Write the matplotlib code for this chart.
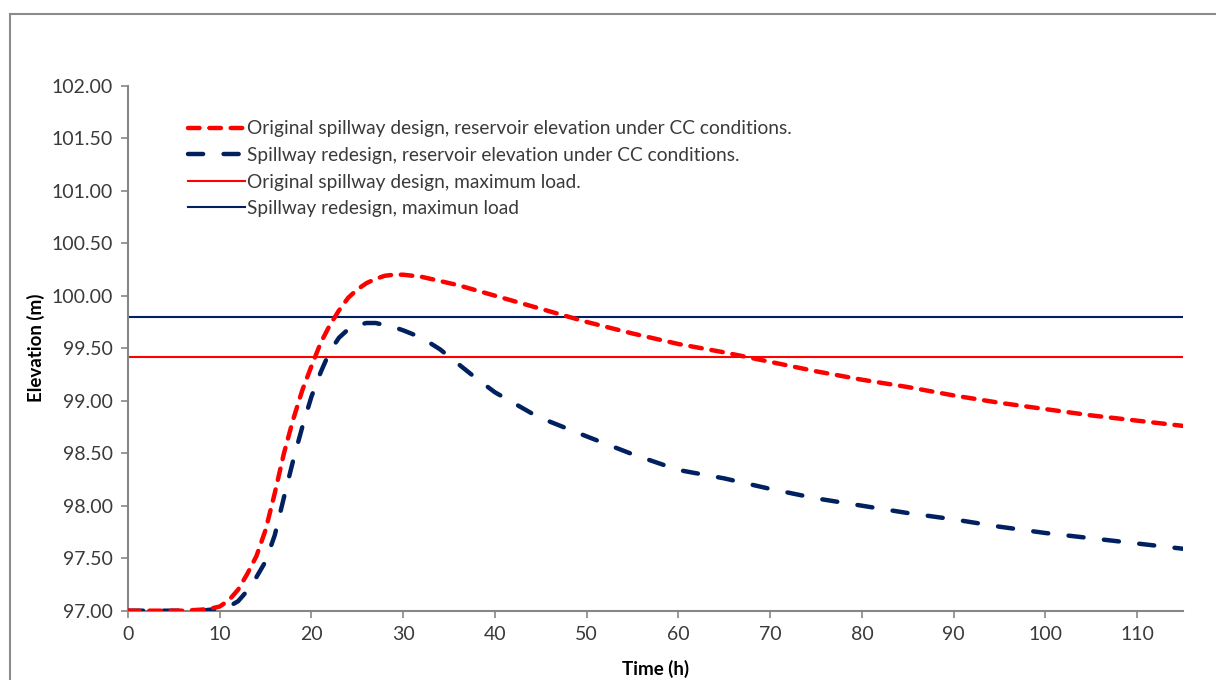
import matplotlib
matplotlib.use("Agg")
import matplotlib.pyplot as plt
from matplotlib.lines import Line2D

plt.rcParams['font.family'] = ['Lato', 'DejaVu Sans']

time_h = [0, 2, 4, 6, 8, 9, 10, 11, 12, 13, 14, 15, 16, 17, 18, 19, 20, 21, 22, 23,
          24, 25, 26, 27, 28, 29, 30, 32, 34, 36, 38, 40, 42, 44, 46, 48, 50, 55, 60,
          65, 70, 75, 80, 85, 90, 95, 100, 105, 110, 115]

original_elev = [97.00, 97.00, 97.00, 97.00, 97.01, 97.02, 97.04, 97.10, 97.20, 97.35,
                 97.52, 97.77, 98.12, 98.50, 98.82, 99.10, 99.33, 99.55, 99.72, 99.86,
                 99.98, 100.06, 100.12, 100.16, 100.19, 100.20, 100.20, 100.18, 100.14,
                 100.10, 100.05, 100.00, 99.95, 99.90, 99.85, 99.80, 99.75, 99.64, 99.54,
                 99.46, 99.37, 99.28, 99.20, 99.13, 99.05, 98.98, 98.92, 98.86, 98.81, 98.76]

redesign_elev = [97.00, 97.00, 97.00, 97.00, 97.00, 97.01, 97.02, 97.04, 97.09, 97.19,
                 97.32, 97.47, 97.72, 98.08, 98.43, 98.75, 99.04, 99.27, 99.47, 99.60,
                 99.68, 99.72, 99.74, 99.74, 99.72, 99.70, 99.67, 99.60, 99.49, 99.35,
                 99.21, 99.08, 98.98, 98.88, 98.80, 98.73, 98.66, 98.49, 98.34, 98.26,
                 98.16, 98.07, 98.00, 97.93, 97.87, 97.80, 97.74, 97.69, 97.64, 97.59]

original_max_load = 99.42
redesign_max_load = 99.80

labels = ["Original spillway design, reservoir elevation under CC conditions.",
          "Spillway redesign, reservoir elevation under CC conditions.",
          "Original spillway design, maximum load.",
          "Spillway redesign, maximun load"]

x_ticks = list(range(0, 111, 10))
y_ticks = [97.0, 97.5, 98.0, 98.5, 99.0, 99.5, 100.0, 100.5, 101.0, 101.5, 102.0]

RED = "#FF0000"
NAVY = "#002060"
GRAY = "#868686"
TXT = "#3a3a3a"

fig = plt.figure(figsize=(12.16, 6.8), dpi=100)
ax = fig.add_axes([128/1216, 1-610.7/680, (1183-128)/1216, (610.7-85.7)/680])

ax.axhline(original_max_load, color=RED, lw=1.5, zorder=2)
ax.axhline(redesign_max_load, color=NAVY, lw=1.5, zorder=2)
l1, = ax.plot(time_h, original_elev, color=RED, lw=3.2, dashes=(2.6, 2.2),
              dash_capstyle='round', zorder=4)
l2, = ax.plot(time_h, redesign_elev, color=NAVY, lw=3.2, dashes=(3.4, 4.6),
              dash_capstyle='round', zorder=3)

ax.set_xlim(0, 115)
ax.set_ylim(97, 102)
ax.set_xticks(x_ticks)
ax.set_yticks(y_ticks)
ax.set_yticklabels([f"{v:.2f}" for v in y_ticks])

for s in ['top', 'right']:
    ax.spines[s].set_visible(False)
for s in ['left', 'bottom']:
    ax.spines[s].set_color(GRAY)
    ax.spines[s].set_linewidth(1.5)
ax.tick_params(axis='both', direction='out', length=5, width=1.2, color=GRAY,
               labelsize=14, labelcolor=TXT, pad=6)

ax.set_xlabel("Time (h)", fontsize=13.5, fontweight='bold', color='black', labelpad=12)
ax.set_ylabel("Elevation (m)", fontsize=13.5, fontweight='bold', color='black', labelpad=4.5)

handles = [l1, l2, Line2D([], [], color=RED, lw=1.5), Line2D([], [], color=NAVY, lw=1.5)]
leg = ax.legend(handles, labels, loc='upper left', bbox_to_anchor=(0.057, 0.934),
                frameon=False, fontsize=13.8, handlelength=2.97, handletextpad=0.12,
                labelspacing=0.5, borderpad=0, borderaxespad=0, labelcolor=TXT)

# outer chart frame
fig.add_artist(Line2D([10/1216, 10/1216], [0, 1-14/680], color='#8c8c8c', lw=1.5,
                      transform=fig.transFigure))
fig.add_artist(Line2D([10/1216, 1], [1-14/680, 1-14/680], color='#8c8c8c', lw=1.5,
                      transform=fig.transFigure))

fig.savefig("out.png", dpi=100, facecolor='white')
